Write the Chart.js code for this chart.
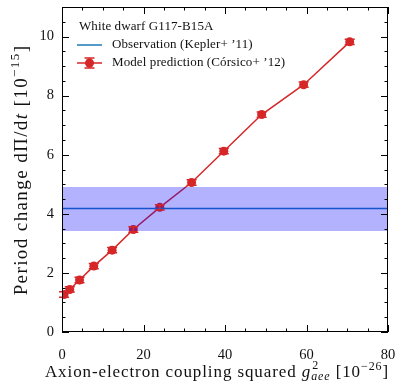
<!DOCTYPE html>
<html>
<head>
<meta charset="utf-8">
<script src="https://cdn.jsdelivr.net/npm/chart.js@4.4.1/dist/chart.umd.min.js"></script>
<style>
  html, body { margin: 0; padding: 0; background: #fff; }
  #wrap { width: 396px; height: 382px; }
</style>
</head>
<body>
<div id="wrap"><canvas id="dotChart"></canvas></div>
<script>
// coupling g_aee^2 [1e-26] and period change dPi/dt [1e-15]
const gSquared = [0.5, 1.9, 4.3, 7.8, 12.3, 17.5, 24.0, 31.8, 39.7, 49.0, 59.3, 70.6];
const periodChange = [1.27, 1.44, 1.76, 2.23, 2.77, 3.47, 4.22, 5.06, 6.12, 7.36, 8.37, 9.82];
const periodErr = [0.09, 0.09, 0.09, 0.09, 0.09, 0.09, 0.09, 0.09, 0.09, 0.09, 0.09, 0.09];
// Kepler+ '11 observation and its band
const obsValue = 4.18;
const obsLow = 3.42;
const obsHigh = 4.91;
const xRange = [0, 80];
const yRange = [0, 11];
const xLabelTicks = [0, 20, 40, 60, 80];
const yLabelTicks = [0, 2, 4, 6, 8, 10];

const SERIF = '"Liberation Serif", "DejaVu Serif", serif';
const RED = '#d62728';
const BLUE = '#1f77b4';

// draws runs of text with their own font / baseline shift, centred on x
function drawRich(ctx, parts, x, y) {
  let total = 0;
  parts.forEach(p => { ctx.font = p[1]; if (!p[4]) total += ctx.measureText(p[0]).width; });
  let cx = x - total / 2;
  ctx.textAlign = 'left';
  ctx.textBaseline = 'alphabetic';
  parts.forEach(p => {
    ctx.font = p[1];
    ctx.fillText(p[0], cx + (p[3] || 0), y + (p[2] || 0));
    if (!p[4]) cx += ctx.measureText(p[0]).width;
  });
}

const extras = {
  id: 'extras',
  afterDatasetsDraw(chart) {
    const ctx = chart.ctx;
    const xs = chart.scales.x, ys = chart.scales.y;
    ctx.save();
    // error bars on model points
    ctx.strokeStyle = RED;
    ctx.lineWidth = 1.5;
    gSquared.forEach((g, i) => {
      const px = xs.getPixelForValue(g);
      const top = ys.getPixelForValue(periodChange[i] + periodErr[i]);
      const bot = ys.getPixelForValue(periodChange[i] - periodErr[i]);
      ctx.beginPath();
      ctx.moveTo(px, top); ctx.lineTo(px, bot);
      ctx.moveTo(px - 5, top); ctx.lineTo(px + 5, top);
      ctx.moveTo(px - 5, bot); ctx.lineTo(px + 5, bot);
      ctx.stroke();
    });
    ctx.restore();
  },
  afterDraw(chart) {
    const ctx = chart.ctx;
    const xs = chart.scales.x, ys = chart.scales.y;
    const a = chart.chartArea;
    ctx.save();
    // frame
    ctx.strokeStyle = '#000';
    ctx.lineWidth = 1;
    ctx.strokeRect(a.left + 0.5, a.top + 0.5, a.right - a.left - 1, a.bottom - a.top - 1);
    // inward ticks on all sides
    ctx.beginPath();
    for (let v = xRange[0]; v <= xRange[1]; v += 5) {
      const px = Math.round(xs.getPixelForValue(v)) + 0.5;
      const len = v % 20 === 0 ? 7 : 3.5;
      ctx.moveTo(px, a.bottom); ctx.lineTo(px, a.bottom - len);
      ctx.moveTo(px, a.top); ctx.lineTo(px, a.top + len);
    }
    for (let v = yRange[0]; v <= yRange[1] + 1e-9; v += 0.5) {
      const py = Math.round(ys.getPixelForValue(v)) + 0.5;
      const len = v % 2 === 0 ? 7 : 3.5;
      ctx.moveTo(a.left, py); ctx.lineTo(a.left + len, py);
      ctx.moveTo(a.right, py); ctx.lineTo(a.right - len, py);
    }
    ctx.stroke();

    // legend
    ctx.fillStyle = '#111';
    ctx.font = '13px ' + SERIF;
    ctx.letterSpacing = '0.1px';
    ctx.textBaseline = 'middle';
    ctx.textAlign = 'left';
    ctx.fillText('White dwarf G117-B15A', a.left + 17, 27);
    ctx.strokeStyle = BLUE;
    ctx.lineWidth = 1.5;
    ctx.beginPath(); ctx.moveTo(a.left + 15, 45); ctx.lineTo(a.left + 40, 45); ctx.stroke();
    ctx.fillText('Observation (Kepler+ \u201911)', a.left + 50, 45);
    ctx.strokeStyle = RED; ctx.fillStyle = RED;
    ctx.beginPath();
    ctx.moveTo(a.left + 15, 63); ctx.lineTo(a.left + 40, 63);
    ctx.moveTo(a.left + 27.5, 58); ctx.lineTo(a.left + 27.5, 68);
    ctx.moveTo(a.left + 22.5, 58); ctx.lineTo(a.left + 32.5, 58);
    ctx.moveTo(a.left + 22.5, 68); ctx.lineTo(a.left + 32.5, 68);
    ctx.stroke();
    ctx.beginPath(); ctx.arc(a.left + 27.5, 63, 4.5, 0, Math.PI * 2); ctx.fill();
    ctx.fillStyle = '#111';
    ctx.fillText('Model prediction (C\u00f3rsico+ \u201912)', a.left + 50, 63);

    // axis titles
    ctx.letterSpacing = '0.9px';
    const big = '17px ' + SERIF, bigI = 'italic 17px ' + SERIF;
    const sm = '12px ' + SERIF, smI = 'italic 12px ' + SERIF;
    const cxm = (a.left + a.right) / 2;
    drawRich(ctx, [
      ['Axion-electron coupling squared ', big, 0],
      ['g', bigI, 0],
      ['2', sm, -8, 1, true],
      ['aee', smI, 3],
      [' [10', big, 0],
      ['\u221226', sm, -7],
      [']', big, 0]
    ], cxm - 8, 377);

    const bigY = '19px ' + SERIF, bigYI = 'italic 19px ' + SERIF;
    const smY = '13px ' + SERIF;
    ctx.letterSpacing = '1.4px';
    ctx.save();
    ctx.translate(27, 170);
    ctx.rotate(-Math.PI / 2);
    drawRich(ctx, [
      ['Period change d\u03a0/d', bigY, 0],
      ['t', bigYI, 0],
      [' [10', bigY, 0],
      ['\u221215', smY, -8],
      [']', bigY, 0]
    ], 0, 0);
    ctx.restore();
    ctx.restore();
  }
};

new Chart(document.getElementById('dotChart'), {
  type: 'scatter',
  data: {
    datasets: [
      {
        data: [{x: xRange[0], y: obsHigh}, {x: xRange[1], y: obsHigh}],
        showLine: true, borderWidth: 0, pointRadius: 0,
        backgroundColor: 'rgba(0, 0, 255, 0.3)', fill: '+1'
      },
      {
        data: [{x: xRange[0], y: obsLow}, {x: xRange[1], y: obsLow}],
        showLine: true, borderWidth: 0, pointRadius: 0
      },
      {
        data: [{x: xRange[0], y: obsValue}, {x: xRange[1], y: obsValue}],
        showLine: true, borderColor: BLUE, borderWidth: 1.5, pointRadius: 0
      },
      {
        data: gSquared.map((g, i) => ({x: g, y: periodChange[i]})),
        showLine: true, borderColor: RED, backgroundColor: RED,
        borderWidth: 1.5, pointRadius: 4.5, pointBorderWidth: 0
      }
    ]
  },
  options: {
    responsive: true,
    maintainAspectRatio: false,
    animation: false,
    layout: { padding: { top: 7, right: 8, left: 0, bottom: 0 } },
    plugins: { legend: { display: false }, tooltip: { enabled: false } },
    scales: {
      x: {
        type: 'linear', min: xRange[0], max: xRange[1],
        grid: { display: false, drawTicks: false },
        border: { display: false },
        ticks: {
          stepSize: 20, padding: 14, color: '#111', maxRotation: 0,
          font: { family: SERIF, size: 14.5 },
          callback: v => xLabelTicks.includes(v) ? String(v) : ''
        },
        afterFit: s => { s.height = 50; s.paddingLeft = 0; s.paddingRight = 0; }
      },
      y: {
        type: 'linear', min: yRange[0], max: yRange[1],
        grid: { display: false, drawTicks: false },
        border: { display: false },
        ticks: {
          stepSize: 2, padding: 8, color: '#111',
          font: { family: SERIF, size: 14.5 },
          callback: v => yLabelTicks.includes(v) ? String(v) : ''
        },
        afterFit: s => { s.width = 62; s.paddingTop = 0; s.paddingBottom = 0; }
      }
    }
  },
  plugins: [extras]
});
</script>
</body>
</html>
